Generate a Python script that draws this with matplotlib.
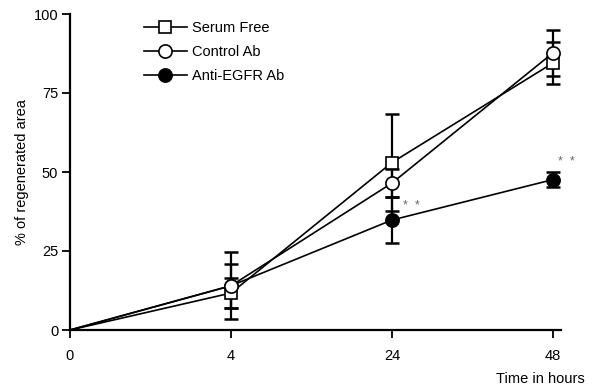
import matplotlib
matplotlib.use("Agg")
import matplotlib.pyplot as plt
import numpy as np

time_labels = ["0", "4", "24", "48"]
serum_free = [0, 11.7, 53.0, 84.5]
serum_free_err = [0, 4.7, 15.4, 6.5]
control_ab = [0, 14.0, 46.5, 87.7]
control_ab_err = [0, 10.6, 4.5, 7.3]
anti_egfr = [0, 14.0, 34.8, 47.6]
anti_egfr_err = [0, 7.0, 7.3, 2.4]
yticks = [0, 25, 50, 75, 100]

plt.rcParams['font.family'] = ['Liberation Sans', 'DejaVu Sans']

fig = plt.figure(figsize=(5.92, 3.87), dpi=100)
ax = fig.add_axes([70/592, 1-330/387, (561-70)/592, (330-14)/387])
x = np.arange(len(time_labels))

ms = 9.5
common = dict(color='black', lw=1.2, markevery=[1, 2, 3])
h_anti, = ax.plot(x, anti_egfr, marker='o', mfc='black', mec='black', mew=1.2, ms=ms,
                  label='Anti-EGFR Ab', zorder=3, **common)
h_serum, = ax.plot(x, serum_free, marker='s', mfc='white', mec='black', mew=1.2, ms=ms-0.5,
                   label='Serum Free', zorder=4, **common)
h_ctrl, = ax.plot(x, control_ab, marker='o', mfc='white', mec='black', mew=1.2, ms=ms,
                  label='Control Ab', zorder=5, **common)

for vals, errs in [(serum_free, serum_free_err), (control_ab, control_ab_err), (anti_egfr, anti_egfr_err)]:
    ax.errorbar(x[1:], vals[1:], yerr=errs[1:], fmt='none', ecolor='black', elinewidth=1.6,
                capsize=4.8, capthick=1.8, zorder=2)

ax.text(x[2] + 0.07, anti_egfr[2] + 4.5, "*  *", fontsize=9, color='#666666', ha='left', va='center')
ax.text(x[3] + 0.03, anti_egfr[3] + 5.5, "*  *", fontsize=9, color='#666666', ha='left', va='center')

ax.set_xlim(0, 3.05)
ax.set_ylim(0, 100)
ax.set_xticks(x)
ax.set_xticklabels(time_labels, fontsize=10.5)
ax.set_yticks(yticks)
ax.set_yticklabels([str(v) for v in yticks], fontsize=10.5)
ax.spines['top'].set_visible(False)
ax.spines['right'].set_visible(False)
ax.spines['left'].set_linewidth(1.6)
ax.spines['bottom'].set_linewidth(1.6)
ax.spines['left'].set_bounds(0, 100)
ax.tick_params(direction='out', length=5.5, width=1.3)
ax.tick_params(axis='y', pad=3)
ax.tick_params(axis='x', pad=8)
ax.set_ylabel("% of regenerated area", fontsize=10.5, labelpad=3)
fig.text(585/592, 1-379/387, "Time in hours", fontsize=10.5, ha='right', va='center')

leg = ax.legend(handles=[h_serum, h_ctrl, h_anti], loc='upper left', bbox_to_anchor=(0.129, 1.01),
                frameon=False, fontsize=10.5, handlelength=3.0, handletextpad=0.3,
                labelspacing=0.7, borderaxespad=0.3)
fig.savefig("out.png", dpi=100)
